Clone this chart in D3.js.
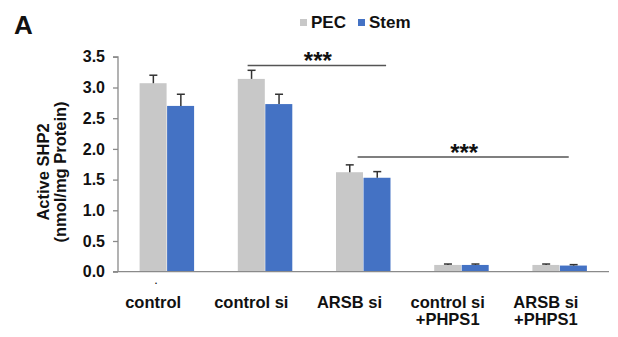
<!DOCTYPE html>
<html><head><meta charset="utf-8">
<script src="https://cdn.jsdelivr.net/npm/d3@7"></script>
<style>body{margin:0;background:#fff}svg{display:block}text{font-family:Arial,"Liberation Sans",sans-serif;font-weight:bold;fill:#111}</style>
</head><body>
<svg id="c" width="618" height="337"></svg>
<script>
const categories = [["control"], ["control si"], ["ARSB si"], ["control si", "+PHPS1"], ["ARSB si", "+PHPS1"]];
const seriesNames = ["PEC", "Stem"];
const pecValues = [3.07, 3.14, 1.62, 0.11, 0.11];
const pecErrors = [0.13, 0.14, 0.12, 0.015, 0.015];
const stemValues = [2.70, 2.73, 1.53, 0.11, 0.10];
const stemErrors = [0.19, 0.16, 0.10, 0.015, 0.015];
const yTicks = [0.0, 0.5, 1.0, 1.5, 2.0, 2.5, 3.0, 3.5];
// bracket ends in category units (category i spans i..i+1)
const sigBrackets = [{from: 1.32, to: 2.73, y: 3.36, label: "***"}, {from: 2.44, to: 4.59, y: 1.87, label: "***"}];
const colors = ["#c8c8c8", "#4472c4"];

const svg = d3.select("#c");
const x0 = d3.scaleBand().domain(d3.range(categories.length)).range([118, 609]).paddingInner(0.44).paddingOuter(0.22);
const x1 = d3.scaleBand().domain([0, 1]).range([0, x0.bandwidth()]);
const xc = d3.scaleLinear().domain([0, categories.length]).range([118, 609]);
const y = d3.scaleLinear().domain([0, 3.5]).range([271.7, 56.8]);

// panel letter
svg.append("text").attr("x", 14).attr("y", 34).style("font-size", "26px").text("A");

// legend
const lg = svg.append("g");
[{n: seriesNames[0], c: colors[0], x: 300}, {n: seriesNames[1], c: colors[1], x: 358}].forEach(d => {
  lg.append("rect").attr("x", d.x).attr("y", 19).attr("width", 7).attr("height", 7).attr("fill", d.c);
  lg.append("text").attr("x", d.x + 11).attr("y", 28).style("font-size", "17px").text(d.n);
});

// y axis
const yAxis = svg.append("g").attr("transform", "translate(118,0)")
  .call(d3.axisLeft(y).tickValues(yTicks).tickFormat(d3.format(".1f")).tickSize(5).tickPadding(8));
yAxis.select(".domain").attr("stroke", "#8a8a8a").attr("stroke-width", 1.3).attr("d", `M-5,${y(3.5)}H0V${y(0)}`);
yAxis.selectAll(".tick line").attr("stroke", "#8a8a8a").attr("stroke-width", 1.3);
yAxis.selectAll(".tick text").style("font-size", "16px").style("font-family", "Arial, 'Liberation Sans', sans-serif").style("font-weight", "bold").attr("fill", "#111");

// y title
const yt = svg.append("text").attr("transform", "translate(0,172) rotate(-90)").attr("text-anchor", "middle").style("font-size", "16.5px");
yt.append("tspan").attr("x", 0).attr("y", 49).text("Active SHP2");
yt.append("tspan").attr("x", 0).attr("y", 66).text("(nmol/mg Protein)");

// bars
const data = categories.map((c, i) => ({i, vals: [{s: 0, v: pecValues[i], e: pecErrors[i]}, {s: 1, v: stemValues[i], e: stemErrors[i]}]}));
const g = svg.selectAll("g.grp").data(data).enter().append("g").attr("transform", d => `translate(${x0(d.i)},0)`);
g.selectAll("rect").data(d => d.vals).enter().append("rect")
  .attr("x", d => x1(d.s)).attr("width", x1.bandwidth() - 0.5)
  .attr("y", d => y(d.v)).attr("height", d => y(0) - y(d.v)).attr("fill", d => colors[d.s]);
const eb = g.selectAll("g.eb").data(d => d.vals).enter().append("g").attr("stroke", "#333").attr("stroke-width", 1.5);
eb.append("line").attr("x1", d => x1(d.s) + x1.bandwidth() / 2).attr("x2", d => x1(d.s) + x1.bandwidth() / 2)
  .attr("y1", d => y(d.v)).attr("y2", d => y(d.v + d.e));
eb.append("line").attr("x1", d => x1(d.s) + x1.bandwidth() / 2 - 4).attr("x2", d => x1(d.s) + x1.bandwidth() / 2 + 4)
  .attr("y1", d => y(d.v + d.e)).attr("y2", d => y(d.v + d.e));

// x axis line
svg.append("line").attr("x1", 113).attr("x2", 609).attr("y1", y(0)).attr("y2", y(0)).attr("stroke", "#8a8a8a").attr("stroke-width", 1.3);

// x labels
const xl = svg.selectAll("text.xl").data(categories).enter().append("text").attr("class", "xl")
  .attr("text-anchor", "middle").style("font-size", "16.5px");
xl.each(function(c, i) {
  const cx = x0(i) + x0.bandwidth() / 2 - 14;
  c.forEach((line, k) => d3.select(this).append("tspan").attr("x", cx).attr("y", 308 + k * 17).text(line));
});
svg.append("text").attr("x", 156).attr("y", 284).attr("text-anchor", "middle").style("font-size", "9px").text(".");

// significance brackets
sigBrackets.forEach(b => {
  const xa = xc(b.from), xb = xc(b.to);
  svg.append("line").attr("x1", xa).attr("x2", xb).attr("y1", y(b.y)).attr("y2", y(b.y)).attr("stroke", "#555").attr("stroke-width", 1.5);
  svg.append("text").attr("x", (xa + xb) / 2 + 1).attr("y", y(b.y) + 4).attr("text-anchor", "middle").style("font-size", "24px").text(b.label);
});
</script>
</body></html>
